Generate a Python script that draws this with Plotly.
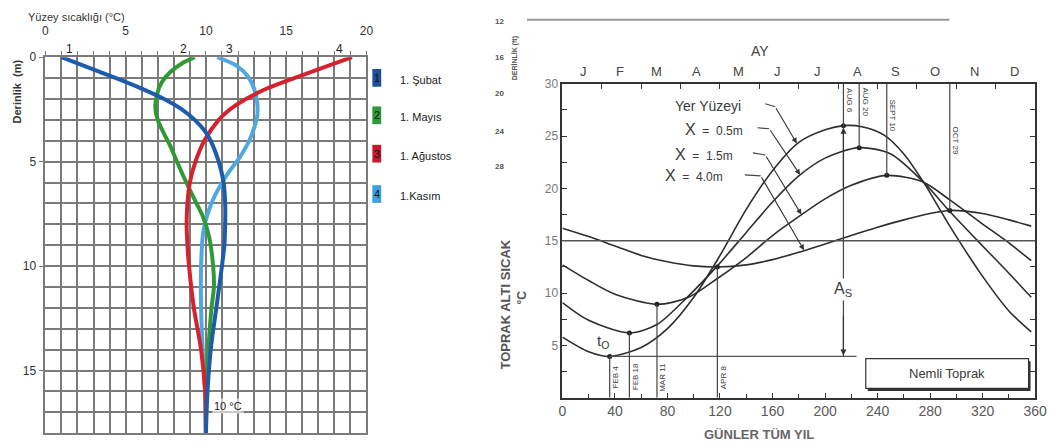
import plotly.graph_objects as go

W, H = 1057, 448
def px(x): return x / W
def py(y): return 1 - y / H

# ---------------- Left chart: depth profiles ----------------
depth_subat = [0, 0.5, 1, 1.5, 2, 2.5, 3, 3.5, 4, 5, 6, 7, 8, 9, 10, 12, 14, 16, 18]
temp_subat = [1.0, 2.7, 4.4, 6.0, 7.4, 8.5, 9.3, 9.9, 10.3, 10.8, 11.1, 11.2, 11.2, 11.15, 11.0, 10.65, 10.3, 10.1, 10.0]

depth_mayis = [0, 0.3, 0.7, 1.2, 1.8, 2.4, 3.0, 3.6, 4.2, 5, 5.7, 6.9, 7.6, 8.6, 10, 11, 12, 14, 16, 18]
temp_mayis = [9.3, 8.5, 7.8, 7.25, 6.95, 6.85, 7.0, 7.35, 7.75, 8.2, 8.6, 9.35, 9.8, 10.2, 10.45, 10.5, 10.35, 10.15, 10.0, 10.0]

depth_agustos = [0, 0.5, 1, 1.5, 2, 2.5, 3, 4, 5, 6, 7, 8, 9, 10, 12, 14, 16, 18]
temp_agustos = [19.1, 17.3, 15.5, 13.8, 12.5, 11.5, 10.8, 9.9, 9.35, 9.0, 8.85, 8.8, 8.85, 8.95, 9.25, 9.7, 9.95, 10.0]

depth_kasim = [0, 0.4, 0.9, 1.5, 2.2, 2.8, 3.4, 4.0, 4.8, 5.7, 6.9, 8.3, 10, 12, 14, 16, 18]
temp_kasim = [10.7, 11.9, 12.6, 13.0, 13.2, 13.2, 13.0, 12.7, 12.1, 11.25, 10.4, 9.85, 9.7, 9.7, 9.8, 9.95, 10.0]

season_names = ["1. Şubat", "1. Mayıs", "1. Ağustos", "1.Kasım"]
season_nums = ["1", "2", "3", "4"]
season_colors = ["#1d5cab", "#2f9a35", "#d2232e", "#4fa9de"]
box_colors = ["#1f4f9c", "#2e9a3a", "#c8182e", "#3f9fdf"]
curve_labels = ["1", "2", "3", "4"]
curve_label_temps = [1.5, 8.6, 11.5, 18.3]

# ---------------- Right chart: annual soil temperature ----------------
days_surface = [0, 20, 36, 60, 80, 100, 120, 140, 160, 180, 200, 214, 228, 245, 260, 275, 295, 320, 340, 357]
temp_surface = [5.8, 4.4, 3.95, 4.8, 6.6, 9.6, 13.6, 18.0, 21.7, 24.4, 25.6, 26.0, 25.9, 25.1, 23.3, 20.6, 16.4, 11.6, 8.3, 6.3]

days_05 = [0, 20, 51, 72, 95, 118, 140, 160, 180, 200, 226, 250, 275, 295, 320, 340, 357]
temp_05 = [9.1, 7.4, 6.2, 7.0, 9.6, 12.6, 15.8, 18.7, 21.2, 22.9, 23.9, 23.3, 20.6, 17.8, 14.5, 11.9, 9.6]

days_15 = [0, 20, 40, 72, 96, 118, 140, 160, 181, 200, 220, 247, 275, 295, 320, 340, 357]
temp_15 = [12.7, 11.2, 9.9, 8.93, 9.6, 11.4, 13.4, 15.5, 17.4, 19.0, 20.3, 21.25, 20.6, 18.9, 16.6, 14.8, 13.1]

days_40 = [0, 20, 40, 60, 80, 100, 118, 140, 160, 180, 200, 220, 240, 260, 280, 295, 320, 340, 357]
temp_40 = [16.2, 15.4, 14.5, 13.6, 13.0, 12.6, 12.5, 12.7, 13.2, 13.9, 14.7, 15.5, 16.3, 17.0, 17.6, 17.9, 17.6, 17.0, 16.4]

min_days = [36, 51, 72, 118]
min_temps = [3.95, 6.2, 8.93, 12.5]
min_labels = ["FEB 4", "FEB 18", "MAR 11", "APR 8"]
max_days = [214, 226, 247, 295]
max_temps = [26.0, 23.9, 21.25, 17.9]
max_labels = ["AUG 6", "AUG 20", "SEPT 10", "OCT 29"]
mean_temp = 15
amp_line_end = 224

month_letters = ["J", "F", "M", "A", "M", "J", "J", "A", "S", "O", "N", "D"]
month_pos = [16, 44, 72, 102, 134, 164, 194, 225, 254, 284, 314, 344]

curve_names = ["Yer Yüzeyi", "X  =  0.5m", "X  =  1.5m", "X  =  4.0m"]
name_pos = [(137.3, 27.9), (138.8, 25.6), (131.3, 23.2), (123.8, 21.2)]
leader_start = [(154.5, 28.1), (148.5, 25.8), (145, 23.4), (139, 21.3)]
leader_bend = [(162, 27.8), (157.5, 25.7), (154.5, 23.2), (151, 21.2)]
leader_tip = [(178.5, 24.3), (181, 21.3), (182, 17.5), (184, 14.1)]

depth_ft_labels = ["12", "16", "20", "24", "28"]
depth_ft_y = [15, 51, 88, 126, 162]

FONT = "Liberation Sans, Arial, sans-serif"
GRID = "#7a7a7a"
INK = "#3a3a3a"

fig = go.Figure()

# left curves
for d, t, c in [(depth_kasim, temp_kasim, season_colors[3]),
                 (depth_mayis, temp_mayis, season_colors[1]),
                 (depth_agustos, temp_agustos, season_colors[2]),
                 (depth_subat, temp_subat, season_colors[0])]:
    fig.add_trace(go.Scatter(x=t, y=d, mode="lines", xaxis="x", yaxis="y",
                             line=dict(color=c, width=4, shape="spline", smoothing=0.8),
                             hoverinfo="skip", showlegend=False))

# right curves
for dd, tt in [(days_surface, temp_surface), (days_05, temp_05), (days_15, temp_15), (days_40, temp_40)]:
    fig.add_trace(go.Scatter(x=dd, y=tt, mode="lines", xaxis="x2", yaxis="y2",
                             line=dict(color="#2e2e2e", width=1.6, shape="spline", smoothing=0.8),
                             hoverinfo="skip", showlegend=False))
fig.add_trace(go.Scatter(x=min_days + max_days, y=min_temps + max_temps, mode="markers",
                         xaxis="x2", yaxis="y2", marker=dict(color="#222", size=5),
                         hoverinfo="skip", showlegend=False))
fig.add_trace(go.Scatter(x=[], y=[], xaxis="x3", yaxis="y2", showlegend=False))

shapes = []
annotations = []

def note(**kw):
    kw.setdefault("showarrow", False)
    kw.setdefault("xanchor", "center")
    kw.setdefault("yanchor", "middle")
    annotations.append(kw)

# mean line and minimum-level line
shapes.append(dict(type="line", xref="x2", yref="y2", x0=0, x1=360, y0=mean_temp, y1=mean_temp,
                   line=dict(color="#555", width=1.6)))
shapes.append(dict(type="line", xref="x2", yref="y2", x0=min_days[0], x1=amp_line_end,
                   y0=min_temps[0], y1=min_temps[0], line=dict(color="#555", width=1.2)))
# vertical lines from minima down
for dday, tv, lab in zip(min_days, min_temps, min_labels):
    shapes.append(dict(type="line", xref="x2", yref="y2", x0=dday, x1=dday, y0=0, y1=tv,
                       line=dict(color="#444", width=1.2)))
    note(xref="x2", yref="y2", x=dday, y=2.0, text=lab, textangle=-90, xshift=6,
         font=dict(size=8, color=INK, family=FONT))
# vertical lines from maxima up
for i, (dday, tv) in enumerate(zip(max_days, max_temps)):
    y0 = min_temps[0] if i == 0 else tv
    shapes.append(dict(type="line", xref="x2", yref="y2", x0=dday, x1=dday, y0=y0, y1=30,
                       line=dict(color="#444", width=1.2)))
label_y = [28.4, 28.3, 27.0, 24.6]
for dday, ly, lab in zip(max_days, label_y, max_labels):
    note(xref="x2", yref="y2", x=dday, y=ly, text=lab, textangle=90, xshift=6,
         font=dict(size=8, color=INK, family=FONT))
# amplitude arrows
annotations.append(dict(xref="x2", yref="y2", axref="x2", ayref="y2", x=max_days[0], y=max_temps[0] - 0.2,
                        ax=max_days[0], ay=20, text="", showarrow=True, arrowhead=2, arrowsize=1,
                        arrowwidth=1.2, arrowcolor="#333"))
annotations.append(dict(xref="x2", yref="y2", axref="x2", ayref="y2", x=max_days[0], y=min_temps[0] + 0.1,
                        ax=max_days[0], ay=8, text="", showarrow=True, arrowhead=2, arrowsize=1,
                        arrowwidth=1.2, arrowcolor="#333"))
note(xref="x2", yref="y2", x=max_days[0], y=10.3, text="A<sub>S</sub>", bgcolor="white",
     font=dict(size=16, color=INK, family=FONT))
note(xref="x2", yref="y2", x=30.8, y=5.4, text="t<sub>O</sub>", font=dict(size=15, color=INK, family=FONT))

# curve names with leaders
for name, (nx, ny), (sx, sy), (bx, by), (tx, ty) in zip(curve_names, name_pos, leader_start, leader_bend, leader_tip):
    size = 14 if name.startswith("Yer") else 12
    txt = name if name.startswith("Yer") else name.replace("X", "<span style='font-size:16px'>X</span>", 1)
    note(xref="x2", yref="y2", x=nx, y=ny, text=txt, xanchor="right",
         font=dict(size=size, color=INK, family=FONT))
    shapes.append(dict(type="line", xref="x2", yref="y2", x0=sx, y0=sy, x1=bx, y1=by,
                       line=dict(color="#444", width=1.1)))
    annotations.append(dict(xref="x2", yref="y2", axref="x2", ayref="y2", x=tx, y=ty, ax=bx, ay=by,
                            text="", showarrow=True, arrowhead=2, arrowsize=1, arrowwidth=1.1,
                            arrowcolor="#333"))

# Nemli Toprak box
shapes.append(dict(type="rect", xref="x2", yref="y2", x0=232.5, x1=356.5, y0=0.65, y1=3.5,
                   line=dict(width=0), fillcolor="#333"))
shapes.append(dict(type="rect", xref="x2", yref="y2", x0=231, x1=355, y0=0.9, y1=3.75,
                   line=dict(color="#333", width=1.2), fillcolor="white"))
note(xref="x2", yref="y2", x=293, y=2.35, text="Nemli Toprak", font=dict(size=13, color=INK, family=FONT))

# month letters
for m, mp in zip(month_letters, month_pos):
    note(xref="x2", yref="paper", x=mp, y=py(66), text=m, font=dict(size=13, color="#444", family=FONT))
note(xref="paper", yref="paper", x=px(768), y=py(45), text="AY", font=dict(size=14, color="#444", family=FONT))
note(xref="paper", yref="paper", x=px(767), y=py(434), text="<b>GÜNLER TÜM YIL</b>",
     font=dict(size=13, color="#666", family=FONT))
note(xref="paper", yref="paper", x=px(509), y=py(302), text="<b>TOPRAK ALTI SICAK</b>",
     textangle=-90, font=dict(size=13, color="#555", family=FONT))
note(xref="paper", yref="paper", x=px(526), y=py(295), text="<b>°C</b>",
     textangle=-90, font=dict(size=12, color="#555", family=FONT))

# depth (ft) fragment
for lab, yy in zip(depth_ft_labels, depth_ft_y):
    note(xref="paper", yref="paper", x=px(503), y=py(yy), text="<b>" + lab + "</b>",
         font=dict(size=8, color="#555", family=FONT))
note(xref="paper", yref="paper", x=px(519), y=py(52), text="<b>DERİNLİK (ft)</b>",
     textangle=-90, font=dict(size=7, color="#555", family=FONT))
shapes.append(dict(type="line", xref="paper", yref="paper", x0=px(531), x1=px(960), y0=py(13), y1=py(13),
                   line=dict(color="#9a9a9a", width=2)))

# ---- left annotations ----
note(xref="paper", yref="paper", x=px(22), y=py(10), xanchor="left", text="Yüzey sıcaklığı (°C)",
     font=dict(size=11, color="#333", family=FONT))
note(xref="paper", yref="paper", x=px(13), y=py(86), text="<b>Derinlik  (m)</b>", textangle=-90,
     font=dict(size=11, color="#333", family=FONT))
for lab, tv in zip(curve_labels, curve_label_temps):
    note(xref="x", yref="paper", x=tv, y=py(43), text=lab, font=dict(size=12, color="#222", family=FONT))
note(xref="x", yref="y", x=10.4, y=16.7, xanchor="left", text="10 °C",
     bgcolor="rgba(255,255,255,0.6)", font=dict(size=11, color="#222", family=FONT))
legend_y = [72, 110, 149, 190]
for num, name, col, yy in zip(season_nums, season_names, box_colors, legend_y):
    shapes.append(dict(type="rect", xref="paper", yref="paper", x0=px(374), x1=px(383),
                       y0=py(yy + 9), y1=py(yy - 9), line=dict(width=0), fillcolor=col))
    note(xref="paper", yref="paper", x=px(378.5), y=py(yy), text=num,
         font=dict(size=11, color="#111", family=FONT))
    note(xref="paper", yref="paper", x=px(400), y=py(yy + 2), xanchor="left", text=name,
         font=dict(size=11, color="#222", family=FONT))

fig.update_layout(
    width=W, height=H, margin=dict(l=0, r=0, t=0, b=0),
    paper_bgcolor="white", plot_bgcolor="white", showlegend=False,
    font=dict(family=FONT),
    xaxis=dict(domain=[px(42), px(368)], range=[0, 20], side="top", anchor="y",
               tickvals=[0, 5, 10, 15, 20], showgrid=True, gridcolor=GRID, gridwidth=1.5,
               minor=dict(dtick=1, showgrid=True, gridcolor=GRID, gridwidth=1.5,
                          ticks="outside", ticklen=4, tickcolor=GRID),
               ticks="outside", ticklen=4, tickcolor=GRID, showline=True, linecolor=GRID,
               linewidth=1.5, mirror=True, zeroline=False, ticklabelstandoff=12,
               tickfont=dict(size=12, color="#333")),
    yaxis=dict(domain=[py(433), py(51)], range=[18, 0], anchor="x",
               tickvals=[0, 5, 10, 15], showgrid=True, gridcolor=GRID, gridwidth=1.5,
               minor=dict(dtick=1, showgrid=True, gridcolor=GRID, gridwidth=1.5),
               ticks="outside", ticklen=5, tickcolor=GRID, showline=True, linecolor=GRID,
               linewidth=1.5, mirror=True, zeroline=False,
               tickfont=dict(size=12, color="#333")),
    xaxis2=dict(domain=[px(567), px(1047)], range=[0, 360], anchor="y2",
                tickvals=list(range(0, 361, 40)), ticks="inside", ticklen=5, tickcolor="#333",
                minor=dict(tickvals=list(range(20, 360, 40)), ticks="inside", ticklen=4, tickcolor="#333"),
                showline=True, linecolor="#333", linewidth=1.6, mirror=True, showgrid=False,
                zeroline=False, tickfont=dict(size=14, color="#5a5a5a")),
    xaxis3=dict(overlaying="x2", side="top", anchor="y2", range=[0, 360],
                tickvals=list(range(30, 360, 30)), ticks="inside", ticklen=5, tickcolor="#333",
                showticklabels=False, showline=False, showgrid=False, zeroline=False),
    yaxis2=dict(domain=[py(397), py(78)], range=[0, 30], anchor="x2",
                tickvals=[5, 10, 15, 20, 25, 30], ticks="inside", ticklen=5, tickcolor="#333",
                minor=dict(tickvals=[2.5, 7.5, 12.5, 17.5, 22.5, 27.5], ticks="inside", ticklen=5,
                           tickcolor="#333"),
                showline=True, linecolor="#333", linewidth=1.6, mirror="ticks", showgrid=False,
                zeroline=False, tickfont=dict(size=12, color="#777")),
    shapes=shapes, annotations=annotations,
)

fig.write_html("out.html", config={"displayModeBar": False},
               post_script="document.body.style.margin='0px';")
